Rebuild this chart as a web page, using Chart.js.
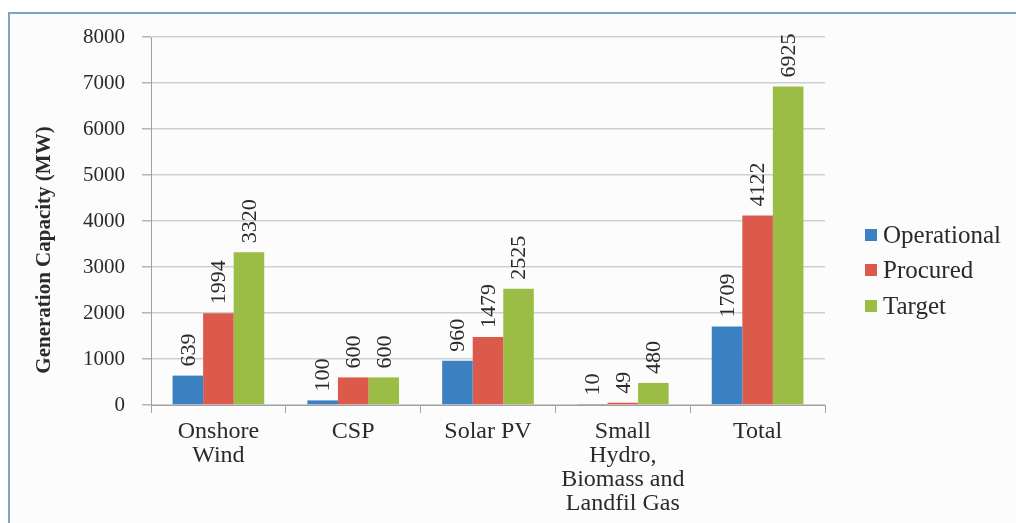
<!DOCTYPE html>
<html>
<head>
<meta charset="utf-8">
<script src="https://cdn.jsdelivr.net/npm/chart.js@4.4.1/dist/chart.umd.min.js"></script>
<style>
  html, body { margin: 0; padding: 0; background: #ffffff; }
  #frame {
    position: absolute; left: 8px; top: 12px; width: 1020px; height: 520px;
    border-left: 2px solid #7fa3c2; border-top: 2px solid #7fa3c2;
    background: #fcfcfc;
  }
  #wrap { position: absolute; left: 0; top: 0; width: 1016px; height: 523px; }
</style>
</head>
<body>
<div id="frame"></div>
<div id="wrap"><canvas id="chart" width="1016" height="523"></canvas></div>
<script>
// Categories (multi-line labels) and series values in MW
const categories = [
  ['Onshore', 'Wind'],
  ['CSP'],
  ['Solar PV'],
  ['Small', 'Hydro,', 'Biomass and', 'Landfil Gas'],
  ['Total']
];
const seriesNames = ['Operational', 'Procured', 'Target'];
const operational = [639, 100, 960, 10, 1709];
const procured = [1994, 600, 1479, 49, 4122];
const target = [3320, 600, 2525, 480, 6925];
const yTicks = [0, 1000, 2000, 3000, 4000, 5000, 6000, 7000, 8000];
const yTitle = 'Generation Capacity (MW)';

const colors = ['#3b81c1', '#dc5a4c', '#9cbd45'];
const serif = "'Liberation Serif', serif";
const textColor = '#2a2a2a';

// Vertical value labels above each bar
const barValueLabels = {
  id: 'barValueLabels',
  afterDatasetsDraw(chart) {
    const ctx = chart.ctx;
    ctx.save();
    ctx.font = `22px ${serif}`;
    ctx.fillStyle = textColor;
    ctx.textAlign = 'left';
    ctx.textBaseline = 'middle';
    chart.data.datasets.forEach((ds, di) => {
      chart.getDatasetMeta(di).data.forEach((bar, i) => {
        ctx.save();
        ctx.translate(bar.x, bar.y - 9);
        ctx.rotate(-Math.PI / 2);
        ctx.fillText(String(ds.data[i]), 0, 1);
        ctx.restore();
      });
    });
    ctx.restore();
  }
};

// Rotated y-axis title, placed a little below the middle of the axis
const axisTitle = {
  id: 'axisTitle',
  afterDraw(chart) {
    const ctx = chart.ctx;
    ctx.save();
    ctx.font = `bold 21px ${serif}`;
    ctx.fillStyle = textColor;
    ctx.textAlign = 'center';
    ctx.textBaseline = 'middle';
    ctx.translate(45, 250);
    ctx.rotate(-Math.PI / 2);
    ctx.fillText(yTitle, 0, 0);
    ctx.restore();
  }
};

// Legend on the right: square swatch + series name
const sideLegend = {
  id: 'sideLegend',
  afterDraw(chart) {
    const ctx = chart.ctx;
    const rows = [235, 270, 306];
    ctx.save();
    ctx.font = `25px ${serif}`;
    ctx.textAlign = 'left';
    ctx.textBaseline = 'middle';
    chart.data.datasets.forEach((ds, di) => {
      const y = rows[di];
      ctx.fillStyle = ds.backgroundColor;
      ctx.fillRect(865, y - 6, 12, 12);
      ctx.fillStyle = textColor;
      ctx.fillText(ds.label, 883, y + 1);
    });
    ctx.restore();
  }
};

const seriesValues = [operational, procured, target];

new Chart(document.getElementById('chart'), {
  type: 'bar',
  data: {
    labels: categories,
    datasets: seriesNames.map((name, i) => ({
      label: name,
      data: seriesValues[i],
      backgroundColor: colors[i],
      borderWidth: 0,
      categoryPercentage: 0.68,
      barPercentage: 1.0
    }))
  },
  options: {
    responsive: false,
    animation: false,
    devicePixelRatio: 1,
    layout: { padding: { left: 10, top: 37, right: 191, bottom: 0 } },
    plugins: {
      legend: { display: false },
      tooltip: { enabled: false }
    },
    scales: {
      x: {
        grid: {
          offset: true,
          drawOnChartArea: false,
          drawTicks: true,
          tickLength: 8,
          color: '#a8a8a8',
          tickColor: '#a8a8a8'
        },
        border: { display: true, color: '#a0a0a0', width: 1 },
        ticks: {
          color: textColor,
          font: { family: serif, size: 24, lineHeight: 1.0 },
          padding: 7,
          maxRotation: 0,
          autoSkip: false
        },
        afterFit(scale) { scale.height = 118; }
      },
      y: {
        min: 0,
        max: 8000,
        afterBuildTicks(scale) { scale.ticks = yTicks.map(v => ({ value: v })); },
        grid: {
          color: '#cfcfcf',
          tickColor: '#b5b5b5',
          drawTicks: true,
          tickLength: 9,
          lineWidth: 1.5
        },
        border: { display: true, color: '#a0a0a0', width: 1 },
        ticks: {
          color: textColor,
          font: { family: serif, size: 21 },
          padding: 17,
          callback: v => String(v)
        },
        afterFit(scale) { scale.width = 141; }
      }
    }
  },
  plugins: [barValueLabels, axisTitle, sideLegend]
});
</script>
</body>
</html>
